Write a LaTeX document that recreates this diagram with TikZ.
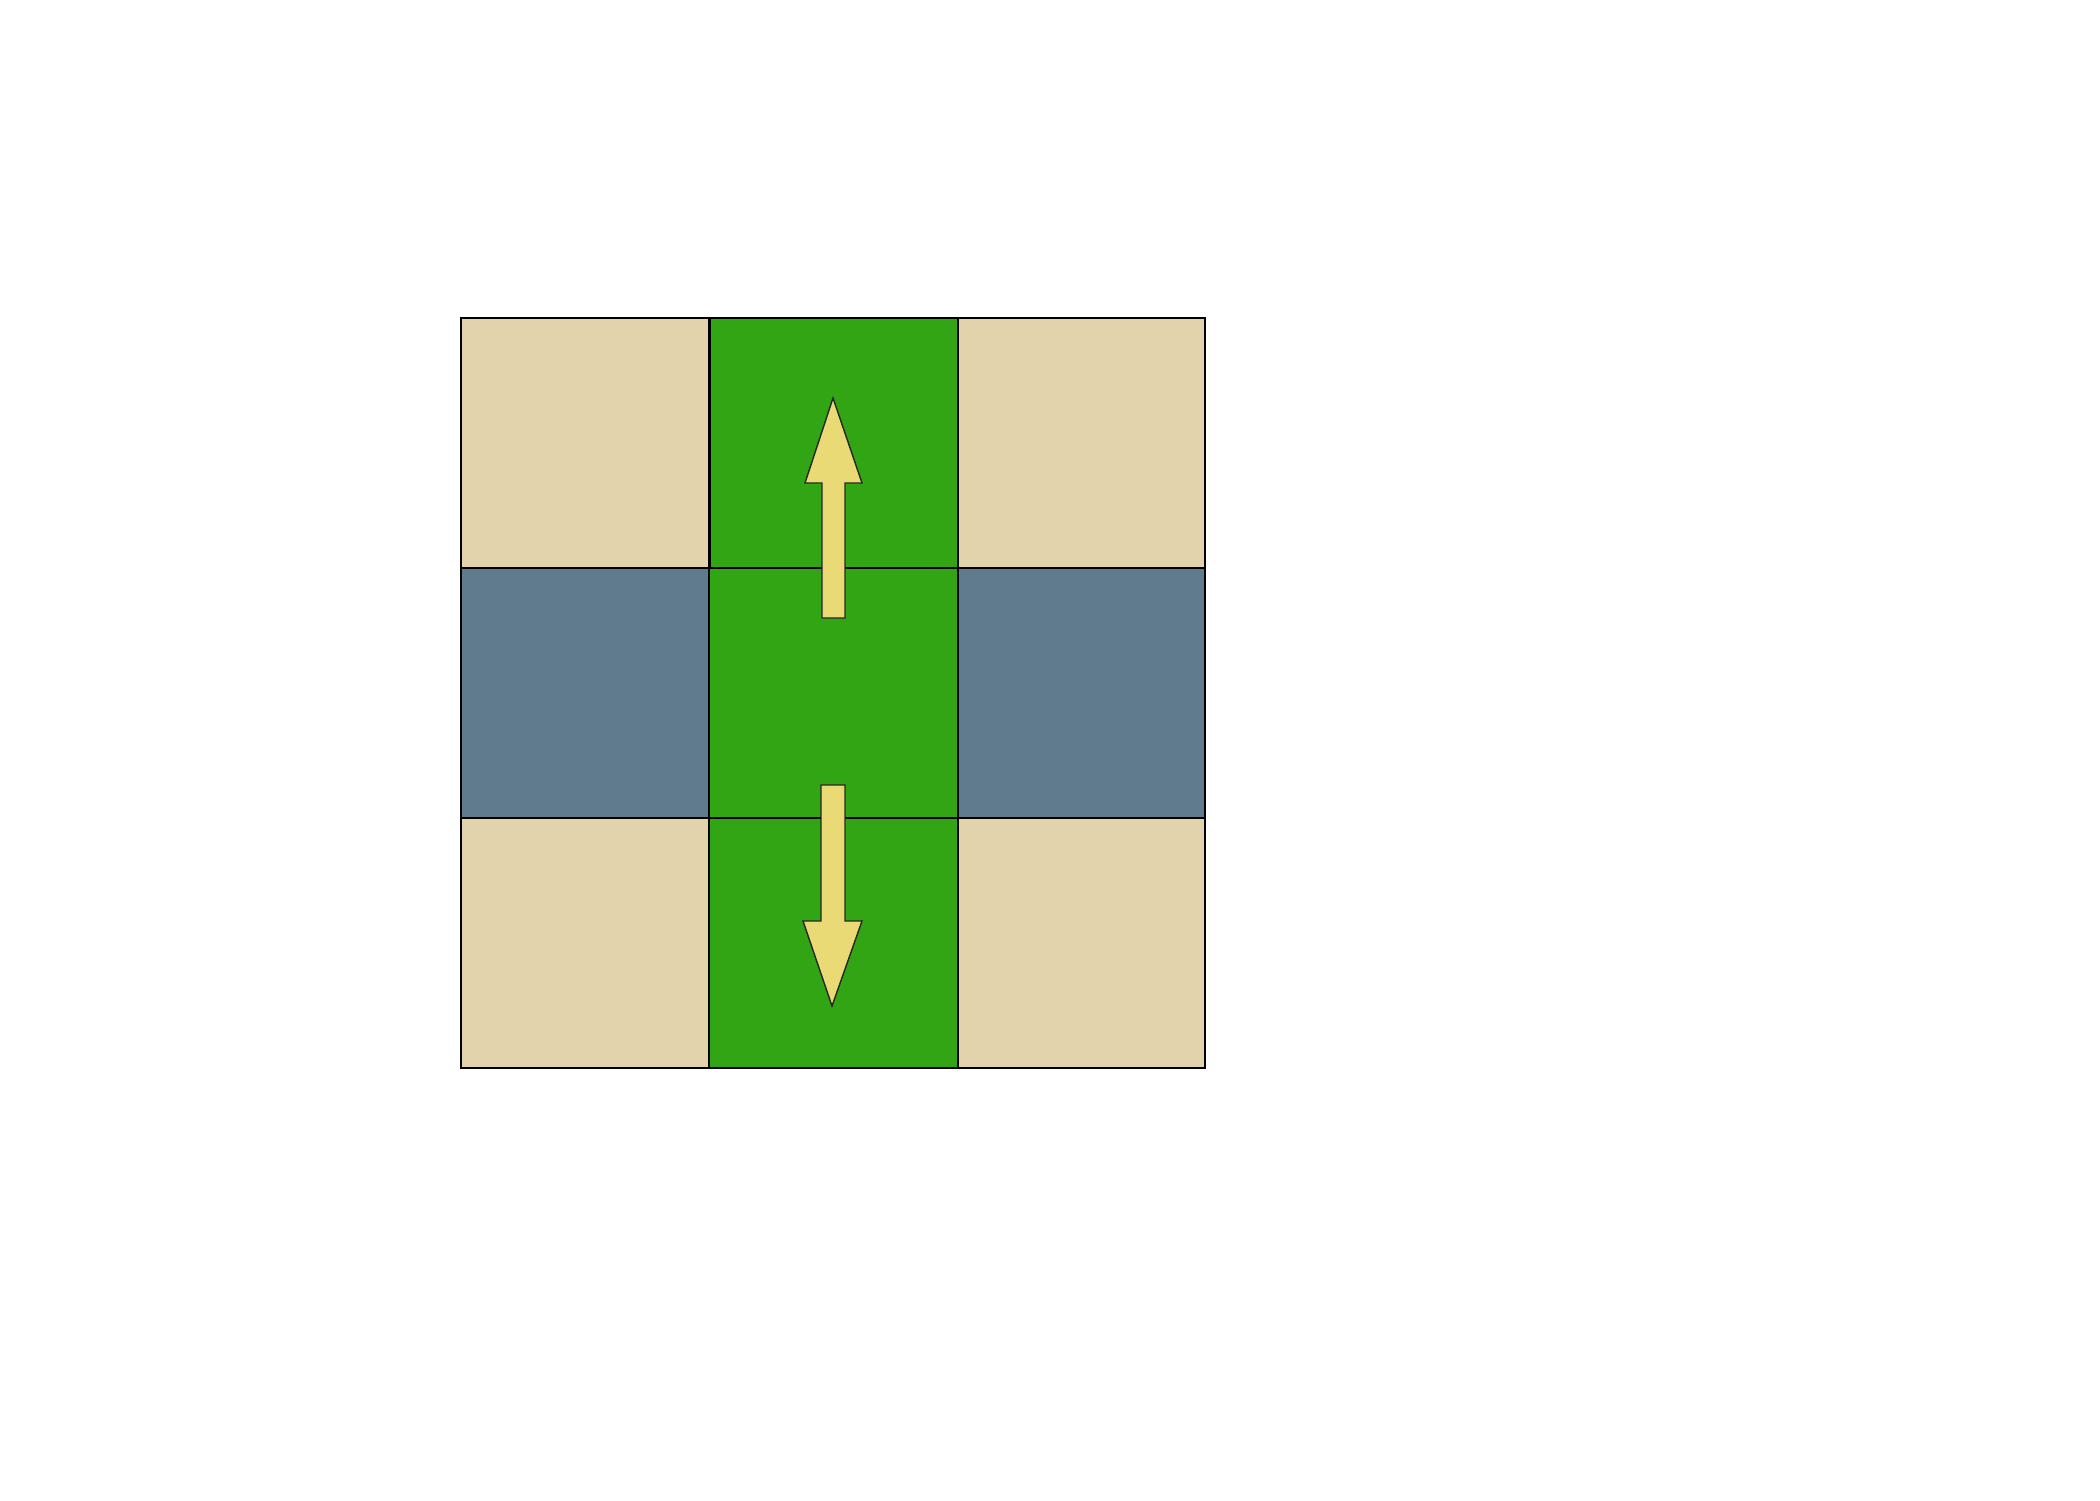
\documentclass[tikz,border=0pt]{standalone}
\begin{document}
\begin{tikzpicture}[x=0.01cm,y=-0.01cm,
  cell/.style={draw=black,line width=0.45pt},
  sand/.style={cell,fill=sandc},
  lane/.style={cell,fill=lanec},
  slate/.style={cell,fill=slatec},
  arrowshape/.style={draw=black!85,line width=0.4pt,fill=arrowc,line join=miter}]
\definecolor{sandc}{HTML}{E2D3AD}
\definecolor{lanec}{HTML}{31A514}
\definecolor{slatec}{HTML}{617B8E}
\definecolor{arrowc}{HTML}{EADA76}
\useasboundingbox[fill=white] (0,0) rectangle (2100,1500);
% top row
\draw[sand]  (461,318) rectangle (709,568);
\draw[lane]  (710,318) rectangle (958,568);
\draw[sand]  (958,318) rectangle (1205,568);
% middle row
\draw[slate] (461,568) rectangle (709,818);
\draw[lane]  (709,568) rectangle (958,818);
\draw[slate] (958,568) rectangle (1205,818);
% bottom row
\draw[sand]  (461,818) rectangle (709,1068);
\draw[lane]  (709,818) rectangle (958,1068);
\draw[sand]  (958,818) rectangle (1205,1068);
% up arrow
\draw[arrowshape] (833,398) -- (862,483) -- (845,483) -- (845,618) -- (822,618) -- (822,483) -- (805,483) -- cycle;
% down arrow
\draw[arrowshape] (832,1006) -- (862,921) -- (845,921) -- (845,785) -- (821,785) -- (821,921) -- (803,921) -- cycle;
\end{tikzpicture}
\end{document}
